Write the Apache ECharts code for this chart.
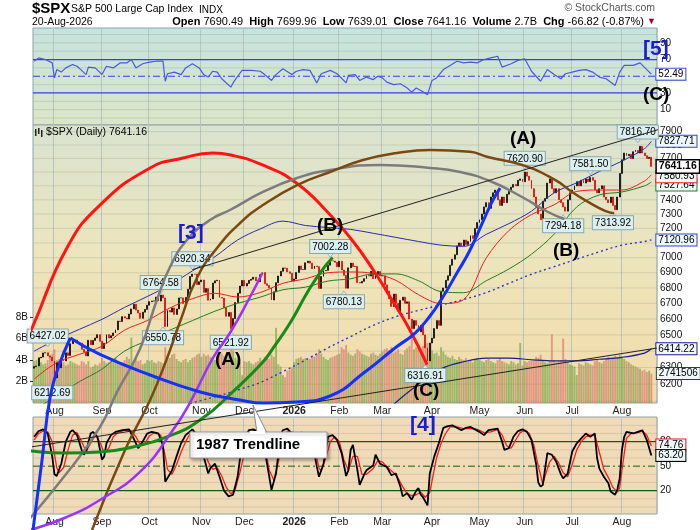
<!DOCTYPE html>
<html><head><meta charset="utf-8">
<script src="https://cdn.jsdelivr.net/npm/echarts@6/dist/echarts.min.js"></script>
<style>html,body{margin:0;padding:0;background:#fff}#c{width:700px;height:530px}</style>
</head><body><div id="c"></div>
<script>
// ---------- calendar (categories) ----------
const startDay = '2025-07-21', endDay = '2026-08-20';
const holidays = ['2025-09-01','2025-11-27','2025-12-25','2026-01-01','2026-01-19','2026-02-16','2026-04-03','2026-05-25','2026-06-19','2026-07-03'];
const padDays = ['2026-08-21','2026-08-24'];

// ---------- daily closes (Jul-2025 .. Aug-2026) ----------
const firstOpen = 6296.0;
const closes = [
 6305.60,6309.62,6358.91,6363.35,6388.64,6389.77,6370.86,6362.90,6339.39,
 6238.01,6329.94,6299.19,6345.06,6340.00,6389.45,6373.45,6445.76,6466.58,6468.54,6449.80,6449.15,6411.37,6395.78,6370.17,6466.91,6439.32,6465.94,6481.40,6501.86,6460.26,
 6415.54,6448.26,6502.08,6481.50,6495.15,6512.61,6532.04,6587.47,6584.29,6615.28,6606.76,6600.35,6631.96,6664.36,6693.75,6656.92,6637.97,6604.72,6643.70,6661.21,6688.46,
 6711.20,6715.35,6715.79,6740.28,6714.59,6753.72,6735.11,6552.51,6654.72,6644.31,6671.06,6629.07,6664.01,6735.13,6735.35,6699.40,6738.44,6791.69,6875.16,6890.89,6890.59,6822.34,6840.20,
 6851.97,6771.55,6796.29,6720.32,6728.80,6832.43,6846.61,6850.92,6737.49,6734.11,6672.41,6617.32,6642.16,6538.76,6602.99,6705.12,6765.88,6812.61,6849.09,
 6812.63,6829.37,6849.72,6857.12,6870.40,6846.51,6840.51,6886.68,6901.00,6827.41,6816.51,6800.26,6721.43,6774.76,6834.50,6878.49,6909.79,6932.05,6929.94,6905.74,6896.24,6845.50,
 6858.47,6902.05,6944.82,6920.93,6921.46,6966.28,6977.27,6963.74,6926.60,6944.47,6940.01,6796.86,6875.62,6913.35,6915.61,6950.23,6978.60,6978.03,6969.01,6939.03,
 6976.44,6917.81,6882.72,6798.40,6932.30,6964,6941,6942,6836,6832,6843,6861,6881,6878,6909,6861,6890,6908,6879,
 6880,6820,6780,6730,6680,6760,6700,6650,6720,6740,6700,6710,6600,6540,6590,6560,6520,6560,6500,6420,6340,6450,
 6480,6540,6590,6560,6780,6800,6850,6880,6950,6990,7020,7080,7100,7080,7120,7090,7110,7150,7130,7200,7240,
 7260,7300,7350,7380,7340,7420,7450,7470,7400,7360,7420,7380,7440,7460,7490,7510,7500,7540,7550,7530,
 7600,7570,7540,7480,7420,7350,7300,7260,7390,7410,7520,7550,7480,7450,7480,7400,7380,7350,7320,7400,7450,
 7470,7500,7530,7500,7540,7520,7550,7530,7560,7540,7470,7450,7480,7500,7420,7400,7380,7420,7360,7330,7420,7590,
 7690,7740,7720,7730,7700,7750,7760,7740,7790,7740,7720,7700,7707.98,7641.16
];
// ---------- daily volume (billions) ----------
const volumes = [
 3.9,4.0,4.1,3.8,3.6,3.7,4.0,4.3,4.6,
 5.0,4.0,4.1,3.9,3.8,3.5,3.6,3.9,3.8,3.7,3.6,3.5,3.9,3.8,3.6,3.9,3.3,3.4,3.6,3.5,3.7,
 4.2,3.9,3.7,3.8,3.9,4.1,4.2,3.9,3.6,3.8,4.0,4.3,4.1,6.1,3.9,4.1,3.9,4.0,3.6,3.7,4.0,
 3.9,4.0,3.8,3.7,3.9,3.8,3.7,5.2,4.4,4.2,4.5,4.6,4.1,3.9,3.8,4.0,4.1,3.8,4.0,4.2,4.3,4.5,4.6,
 4.3,4.6,4.4,4.5,4.3,4.2,4.0,4.3,4.8,4.6,4.4,4.5,4.3,5.2,4.9,4.2,4.0,3.8,2.6,
 3.9,3.8,3.9,3.7,3.6,3.8,3.9,4.2,4.0,4.3,4.2,4.1,4.5,4.3,7.0,3.6,3.4,2.6,2.4,3.0,3.1,3.3,
 3.8,4.1,4.2,4.3,4.1,4.2,4.0,4.1,4.4,4.3,4.6,5.0,4.6,4.3,4.1,4.0,4.2,4.3,4.4,4.5,
 4.6,5.2,5.0,5.4,4.7,4.5,4.4,4.6,5.0,4.8,4.6,4.5,4.4,4.3,4.6,4.7,4.5,4.4,4.6,
 4.8,5.0,5.1,4.9,5.2,4.7,4.8,5.0,4.6,4.5,4.9,5.1,5.3,6.3,5.0,5.2,5.4,5.1,5.3,5.5,5.6,5.0,
 4.9,4.6,4.7,4.4,5.2,4.8,4.5,4.3,4.2,4.4,4.1,4.0,4.3,4.1,4.0,4.2,3.9,4.0,3.8,4.1,4.2,
 4.0,3.9,3.8,4.0,4.1,3.9,3.8,3.7,4.0,4.2,3.9,3.8,3.7,3.6,3.9,3.8,3.6,3.7,5.6,3.5,
 3.9,3.8,3.9,4.0,4.1,4.3,4.2,4.5,4.0,3.8,3.7,3.9,6.4,4.0,3.8,3.9,4.0,6.0,4.1,3.8,3.6,
 3.5,3.4,2.6,3.7,3.6,3.5,3.8,3.7,3.6,3.5,3.9,4.0,3.8,3.7,3.9,4.1,4.3,4.0,4.2,4.4,4.3,4.5,
 4.3,4.1,3.9,3.8,3.6,3.5,3.4,3.3,3.2,3.0,3.1,2.9,3.0,2.741506
];

// ---------- overlay lines (trading-day number -> value) ----------
const maDay   = [0,10,20,30,40,50,60,70,80,90,100,110,120,130,140,150,160,170,180,190,200,210,220,230,240,250,260,270,273];
const ma20    = [6230,6330,6380,6430,6530,6590,6670,6730,6765,6741,6770,6830,6860,6900,6905,6895,6850,6756,6699,6725,6999,7185,7296,7365,7460,7470,7470,7535,7580.93];
const ma50    = [6050,6130,6215,6290,6400,6465,6530,6590,6650,6700,6740,6788,6805,6845,6860,6892,6892,6847,6776,6769,6847,6925,7024,7160,7350,7435,7456,7500,7527.64];
const bbUpper = [6400,6472,6535,6598,6674,6744,6820,6912,7007,7120,7196,7250,7220,7206,7193,7166,7138,7110,7085,7077,7159,7233,7320,7450,7522,7604,7680,7773,7827.71];
const bbMid   = [5880,5900,5925,5950,5980,6010,6045,6090,6125,6165,6210,6275,6345,6420,6490,6560,6615,6655,6690,6725,6770,6830,6890,6940,6990,7040,7085,7110,7120.96];
const bbLower = [5360,5328,5315,5302,5286,5276,5270,5268,5243,5210,5224,5300,5470,5634,5787,5954,6092,6200,6293,6335,6357,6357,6347,6340,6340,6350,6362,6388,6414.22];

const rsiDay = [0,2,5,8,9,10,12,14,17,19,21,23,24,27,29,30,32,35,38,41,43,45,48,51,54,57,58,59,62,65,67,70,73,75,77,79,81,83,87,88,90,92,96,100,102,105,107,110,114,116,119,122,125,127,131,134,138,139,142,144,147,150,152,154,156,159,162,165,167,169,171,174,176,178,181,184,187,190,193,196,199,202,205,207,211,214,217,220,224,227,230,233,235,238,241,244,247,250,253,257,259,261,265,268,271,273];
const rsiVal = [68,72,70,66,48,58,55,60,64,62,57,52,61,60,55,52,62,60,66,66,70,60,65,67,68,68,44,53,55,52,60,65,60,52,49,56,55,47,37,42,50,57,57,56,52,45,52,59,52,56,58,57,42,53,57,53,42,51,52,45,49,46,50,48,43,40,41,36,31,36,33,28,45,48,58,63,68,66,67,66,70,72,74,61,65,69,71,56,44,58,52,47,53,55,57,58,55,49,47,39,55,63,63,66,58,52.49];

const stochDay = [0,2,4,6,8,9,10,12,14,16,17,19,21,22,23,25,26,28,30,31,32,34,36,39,42,44,46,48,50,52,55,57,58,60,61,63,65,67,70,72,73,75,77,78,80,82,84,86,88,90,91,93,95,97,99,101,103,105,107,109,110,112,114,116,118,121,123,125,126,128,130,132,134,136,138,139,140,141,143,144,146,147,150,151,153,156,158,160,162,163,165,167,169,170,171,172,174,175,177,179,181,183,185,187,189,191,193,195,197,199,201,203,205,207,208,210,212,214,216,218,220,222,223,224,225,227,229,231,233,234,236,238,240,242,244,246,248,249,250,252,254,255,257,258,259,260,261,262,265,267,269,270,271,273];
const stochK = [86,93,95,90,62,40,38,53,80,92,94,88,70,64,68,90,92,86,58,62,78,88,92,94,95,84,72,80,90,92,90,75,31,40,45,62,78,88,95,88,80,62,41,48,53,37,20,13,15,37,58,85,94,95,92,85,53,21,41,88,94,96,90,88,91,90,80,50,37,53,86,88,82,66,38,45,70,76,45,27,40,45,51,64,53,49,39,41,25,13,17,9,20,23,15,12,2,41,62,78,97,99,100,97,94,97,98,95,92,88,94,95,96,80,70,72,86,93,95,92,82,53,30,25,27,66,64,55,40,35,41,68,78,84,90,86,90,60,47,37,29,19,15,22,35,70,86,92,90,92,94,88,82,63.2];
const stochDDay = [0,2,4,6,8,9,10,11,13,15,17,19,21,23,25,27,29,31,33,35,37,40,43,45,47,49,51,53,56,58,59,61,63,65,67,69,71,73,75,77,79,81,83,85,87,89,91,93,95,97,100,102,104,106,108,110,112,115,118,121,124,126,127,129,131,133,135,137,139,141,143,145,147,150,152,154,157,159,161,163,165,167,169,171,173,175,176,178,180,182,184,187,190,193,196,199,202,205,207,209,211,213,215,217,219,221,223,225,226,228,230,232,234,236,238,240,242,244,246,248,250,252,254,256,258,259,260,261,262,264,267,269,271,273];
const stochD = [82,90,93,92,80,65,48,42,48,70,88,91,80,68,78,88,80,66,72,86,91,94,93,86,76,78,87,91,88,62,46,40,52,67,80,90,92,86,73,55,46,48,38,24,16,22,42,66,88,94,91,75,45,33,55,80,93,91,89,90,72,48,44,60,80,86,80,58,45,62,62,40,40,47,57,55,47,42,35,25,16,14,15,18,12,18,32,60,78,90,98,98,96,96,95,91,92,95,88,75,72,82,91,94,90,76,50,28,38,55,62,54,42,37,52,70,80,86,88,88,67,46,36,24,18,24,45,65,84,90,91,93,88,74.76];

// ---------- hand-drawn cycle arcs and trendlines (trading-day number, price) ----------
const redArc = [[-15.1,6107],[-9.4,6297],[-0.9,6544],[14.5,7066],[29.1,7363],[51.3,7630],[66,7703],[79,7740],[87,7725],[101,7652],[116,7520],[131,7293],[140.6,7120],[150,6918],[158.3,6722],[166.2,6531],[173.8,6317]];
const grayArc = [[-6.3,5390],[14.5,5693],[29.1,5950],[36.7,6154],[46.8,6413],[54.3,6722],[60.1,6938],[67.6,7120],[77.8,7258],[86.6,7328],[101.2,7456],[116.3,7557],[130.9,7615],[153,7652],[175.1,7630],[188.4,7600],[201.6,7535],[215.8,7420],[227.3,7314],[234.5,7265]];
const brownArc = [[25.6,5390],[40.2,5821],[51.3,6107],[58.8,6357],[64.5,6581],[72,6865],[80.9,7066],[91.1,7237],[101.2,7363],[116.3,7506],[130.9,7600],[145.5,7688],[160.5,7740],[175.1,7762],[192.8,7749],[200.7,7710],[215.8,7652],[230.4,7543],[237.9,7456],[245,7385],[252.5,7322],[256.5,7305]];
const greenArc = [[-15.1,5837],[-1.8,5815],[13.7,5804],[29.1,5809],[43.7,5837],[58.8,5894],[73.4,5990],[88.8,6166],[101.2,6333],[105.7,6418],[113.2,6575],[120.7,6767],[126.4,6898],[132,7002]];
const purpleArc = [[-1.8,5390],[14.5,5458],[29.1,5548],[46.8,5699],[61.4,5933],[68.9,6090],[79.1,6358],[86.6,6512],[95.5,6741],[101,6900]];
const blueSmallArc = [[-0.5,5390],[3.5,5765],[7,6118],[10.6,6297],[16,6481]];
const blueArc = [[16,6481],[29.1,6380],[51.3,6255],[73.4,6154],[91,6107],[101.2,6089],[116.3,6095],[130.9,6130],[146.3,6273],[159.6,6419],[168.5,6512],[175.1,6619],[180.8,6741],[187,6898],[192.8,7052],[199.4,7279],[203,7400],[206.1,7484]];
const upperTrend = [[70,6920.34],[285.7,7966]];
const lowerTrend = [[-15.1,5810],[275.5,6419]];

// ---------- labelled extremes ----------
const noteDay  = [6,8,56,57,70,87,131,137,173,217,234,246,256,267];
const noteVal  = [6427.02,6212.69,6764.58,6550.78,6920.34,6521.92,7002.28,6780.13,6316.91,7620.90,7294.18,7581.50,7313.92,7816.70];
const noteHigh = [1,0,1,0,1,0,1,0,0,1,0,1,0,1];

// ---------- axis ticks / reference levels ----------
const priceTicks = [6200,6300,6400,6500,6600,6700,6800,6900,7000,7100,7200,7300,7400,7500,7600,7700,7800,7900];
const priceGrid = [6100,6200,6300,6400,6500,6600,6700,6800,6900,7000,7100,7200,7300,7400,7500,7600,7700,7800,7900];
const volTicks = [2,4,6,8];
const rsiTicks = [10,30,50,70,90];
const stochTicks = [20,50,80];
const rsiFaint = [0,10,20,40,60,80,90,100];
const stochFaint = [0,10,30,40,60,70,90,100];
const rsiBands = [70,30];
const stochBands = [80,20];

// ---------- build ----------
const dates = [];
(function(){
  let t = Date.parse(startDay + 'T00:00:00Z'); const end = Date.parse(endDay + 'T00:00:00Z');
  while (t <= end) { const d = new Date(t); const s = d.toISOString().slice(0,10); const w = d.getUTCDay();
    if (w !== 0 && w !== 6 && holidays.indexOf(s) < 0) dates.push(s); t += 86400000; }
})();
const cats = dates.concat(padDays);
const N = cats.length;
const FONT = 'Liberation Sans, Arial, Helvetica, sans-serif';
const MON = ['Jan','Feb','Mar','Apr','May','Jun','Jul','Aug','Sep','Oct','Nov','Dec'];
const isMonthStart = i => i > 0 && i < dates.length && cats[i].slice(0,7) !== cats[i-1].slice(0,7);
const monthFmt = v => { const m = +v.slice(5,7); return m === 1 ? '{y|' + v.slice(0,4) + '}' : MON[m-1]; };

const candles = closes.map((c,i) => { const o = i ? closes[i-1] : firstOpen; return [o, c, Math.min(o,c), Math.max(o,c)]; });
const volData = volumes.map((v,i) => ({ value: v, itemStyle: { color: (i === 0 || closes[i] >= closes[i-1]) ? 'rgba(125,168,78,0.72)' : 'rgba(214,110,105,0.62)' } }));
const pts = (days, vals) => days.map((d,i) => [d, vals[i]]);

const catAxis = (g, lab) => ({ type:'category', gridIndex:g, data:cats, boundaryGap:true,
  axisLine:{show:false, onZero:false}, axisTick:{show:false},
  axisLabel:{ show:lab, interval:(i)=>isMonthStart(i), formatter:monthFmt, fontSize:10.5, color:'#222', margin:3,
    rich:{ y:{ fontWeight:'bold', fontSize:10.5, color:'#222' } } },
  splitLine:{ show:true, interval:(i)=>isMonthStart(i), lineStyle:{ color:'#b6c4c2', width:1 } } });
const valAxis = g => ({ type:'value', gridIndex:g, min:-0.5, max:N-0.5, show:false, axisLine:{show:false, onZero:false}, splitLine:{show:false} });
const plain = v => String(v);

const tag = (border, extra) => Object.assign({ show:true, color:'#000', fontSize:10, fontFamily:FONT,
  backgroundColor:'#eef8f8', borderColor:border, borderWidth:1, padding:[1,2,0,2], distance:5 }, extra || {});

const lineS = (data, color, width, extra) => Object.assign({ type:'line', xAxisIndex:4, yAxisIndex:1, data:data,
  symbol:'none', silent:true, smooth:0.35, lineStyle:{ color:color, width:width }, z:4 }, extra || {});
const arcS = (data, color, width) => ({ type:'line', xAxisIndex:4, yAxisIndex:1, data:data, symbol:'none', silent:true,
  smooth:0.5, clip:false, lineStyle:{ color:color, width:width }, z:6 });
// horizontal reference level drawn across a panel (panel overlay x-axis spans the full width)
const levelS = (xi, yi, v, color, width, type, z) => ({ type:'line', xAxisIndex:xi, yAxisIndex:yi, data:[[-0.5, v],[N-0.5, v]],
  symbol:'none', silent:true, lineStyle:{ color:color, width:width, type:type || 'solid' }, z:z || 2 });

const calloutLabel = { show:true, color:'#000', fontSize:10, fontFamily:FONT, backgroundColor:'#dcefef',
  borderColor:'#8aa6aa', borderWidth:1, padding:[2,2,1,2], distance:0 };
const callouts = noteDay.map((d,i) => ({
  coord:[d, noteVal[i]], symbol:'triangle', symbolSize:[6,4], symbolRotate: noteHigh[i] ? 180 : 0,
  symbolOffset:[0, noteHigh[i] ? -2 : 2],
  itemStyle:{ color:'#dcefef', borderColor:'#8aa6aa', borderWidth:0.8 },
  label: Object.assign({}, calloutLabel, { position: noteHigh[i] ? 'top' : 'bottom', formatter: noteVal[i].toFixed(2) })
}));
const last = closes.length - 1;
callouts.push({ coord:[last, closes[last]], symbol:'rect', symbolSize:1, itemStyle:{ color:'rgba(0,0,0,0)' },
  label:{ show:true, position:'right', distance:5, formatter: closes[last].toFixed(2), color:'#000', fontWeight:'bold',
    fontSize:10.5, fontFamily:FONT, backgroundColor:'#fff', borderColor:'#000', borderWidth:1.5, padding:[1,2,0,2] } });

const txt = (t, left, top, font, fill) => ({ type:'text', left:left, top:top, z:100, style:{ text:t, font:font, fill:fill || '#000' } });

const series = [
  { type:'bar', xAxisIndex:1, yAxisIndex:2, data:volData, barCategoryGap:'15%', silent:true, z:2,
    markPoint:{ silent:true, data:[{ coord:[last, volumes[last]], symbol:'rect', symbolSize:1, itemStyle:{color:'rgba(0,0,0,0)'},
      label: tag('#224444', { position:'right', distance:5, formatter: String(Math.round(volumes[last]*1e6)) }) }] } },
  { type:'candlestick', xAxisIndex:1, yAxisIndex:1, data:candles, barWidth:1.4, silent:true, z:3,
    itemStyle:{ color:'#000', color0:'#e00000', borderColor:'#000', borderColor0:'#e00000', borderWidth:0.7 },
    markPoint:{ silent:true, data:callouts } },
  lineS(pts(maDay,bbMid), '#3535c0', 1.4, { lineStyle:{ color:'#3535c0', width:1.4, type:[2,3] },
    endLabel: tag('#3344cc', { formatter: bbMid[bbMid.length-1].toFixed(2) }) }),
  lineS(pts(maDay,bbLower), '#1c1c8c', 1.2, { endLabel: tag('#1c1c8c', { formatter: bbLower[bbLower.length-1].toFixed(2) }) }),
  lineS(pts(maDay,bbUpper), '#2a2ab0', 1, { endLabel: tag('#3344cc', { formatter: bbUpper[bbUpper.length-1].toFixed(2) }) }),
  lineS(pts(maDay,ma50), '#1f7f1f', 1, { endLabel: tag('#1f7f1f', { formatter: ma50[ma50.length-1].toFixed(2), offset:[0,3] }) }),
  lineS(pts(maDay,ma20), '#e82020', 1, { endLabel: tag('#e82020', { formatter: ma20[ma20.length-1].toFixed(2), offset:[0,2] }) }),
  arcS(redArc, '#ff1414', 3),
  arcS(grayArc, '#7c7c7c', 2.5),
  arcS(brownArc, '#7a4812', 2.5),
  arcS(greenArc, '#178a17', 3),
  arcS(purpleArc, '#9b30ff', 2.5),
  arcS(blueSmallArc, '#1430ff', 3),
  arcS(blueArc, '#1430ff', 3),
  Object.assign(arcS(upperTrend, '#222', 1), { smooth:false }),
  Object.assign(arcS(lowerTrend, '#222', 1), { smooth:false }),
  { type:'line', xAxisIndex:3, yAxisIndex:0, data:pts(rsiDay,rsiVal), symbol:'none', silent:true, z:4,
    lineStyle:{ color:'#4a58e0', width:1.2 },
    endLabel: tag('#3344cc', { backgroundColor:'#fff', formatter: rsiVal[rsiVal.length-1].toFixed(2) }) },
  { type:'line', xAxisIndex:5, yAxisIndex:3, data:pts(stochDDay,stochD), symbol:'none', silent:true, z:4,
    lineStyle:{ color:'#ff1a1a', width:1.3 },
    endLabel: tag('#e01010', { formatter: stochD[stochD.length-1].toFixed(2), offset:[0,-1] }) },
  { type:'line', xAxisIndex:5, yAxisIndex:3, data:pts(stochDay,stochK), symbol:'none', silent:true, z:5,
    lineStyle:{ color:'#000', width:1.8 },
    endLabel: tag('#000', { formatter: stochK[stochK.length-1].toFixed(2) }) }
];
priceGrid.forEach(v => series.push(levelS(4, 1, v, 'rgba(120,130,110,0.22)', 1, 'solid', 1)));
rsiFaint.forEach(v => series.push(levelS(3, 0, v, 'rgba(120,140,130,0.25)', 1, 'solid', 1)));
stochFaint.forEach(v => series.push(levelS(5, 3, v, 'rgba(150,120,90,0.22)', 1, 'solid', 1)));
rsiBands.forEach(v => series.push(levelS(3, 0, v, '#3a3aee', 1.2, 'solid', 2)));
series.push(levelS(3, 0, 50, '#3a3aee', 1, [7,3,2,3], 2));
stochBands.forEach(v => series.push(levelS(5, 3, v, '#0e5e0e', 1.2, 'solid', 2)));
series.push(levelS(5, 3, 50, '#0e5e0e', 1, [7,3,2,3], 2));

const option = {
  animation:false,
  textStyle:{ fontFamily:FONT },
  grid:[
    { left:33, right:43, top:28, height:97, show:true, borderColor:'#8fa3a6', borderWidth:1,
      backgroundColor:{ type:'linear', x:0, y:0, x2:0, y2:1, colorStops:[{offset:0,color:'#c6e3dd'},{offset:1,color:'#dbe6c8'}] } },
    { left:33, right:43, top:125, height:278, show:true, borderColor:'#8fa3a6', borderWidth:1,
      backgroundColor:{ type:'linear', x:0, y:0, x2:0, y2:1, colorStops:[{offset:0,color:'#d9e3d0'},{offset:0.45,color:'#ece5bd'},{offset:1,color:'#f4dba8'}] } },
    { left:33, right:43, top:417, height:97, show:true, borderColor:'#8fa3a6', borderWidth:1, backgroundColor:'#f0dbb9' }
  ],
  xAxis:[ catAxis(0,false), catAxis(1,true), catAxis(2,true), valAxis(0), valAxis(1), valAxis(2) ],
  yAxis:[
    { type:'value', gridIndex:0, min:-8.4, max:107.8, position:'right', axisLine:{show:false}, axisTick:{show:false}, splitLine:{show:false},
      axisLabel:{ customValues:rsiTicks, formatter:plain, fontSize:10, color:'#111', margin:3 } },
    { type:'log', gridIndex:1, min:6089, max:7951, position:'right', axisLine:{show:false}, axisTick:{show:false}, splitLine:{show:false},
      axisLabel:{ customValues:priceTicks, formatter:plain, fontSize:10, color:'#111', margin:3 } },
    { type:'value', gridIndex:1, min:0, max:25.9, position:'left', axisLine:{show:false}, splitLine:{show:false},
      axisTick:{ show:true, customValues:volTicks, length:3, lineStyle:{color:'#333'} },
      axisLabel:{ customValues:volTicks, formatter:v => v + 'B', fontSize:10, color:'#111', margin:5 } },
    { type:'value', gridIndex:2, min:-8.57, max:110.2, position:'right', axisLine:{show:false}, axisTick:{show:false}, splitLine:{show:false},
      axisLabel:{ customValues:stochTicks, formatter:plain, fontSize:10, color:'#111', margin:3 } }
  ],
  series: series,
  graphic:[
    txt('$SPX', 32, 1, 'bold 15px ' + FONT),
    txt('S&P 500 Large Cap Index', 71, 4, '10.5px ' + FONT),
    txt('INDX', 199, 5, '10px ' + FONT),
    { type:'text', right:45, top:3, z:100, style:{ text:'\u00a9 StockCharts.com', font:'10.5px ' + FONT, fill:'#555' } },
    txt('20-Aug-2026', 32, 17, '10.5px ' + FONT),
    { type:'text', right:44, top:16, z:100, style:{
        text:'{b|Open} 7690.49  {b|High} 7699.96  {b|Low} 7639.01  {b|Close} 7641.16  {b|Volume} 2.7B  {b|Chg} -66.82 (-0.87%) {r|\u25bc}',
        fontSize:11, fontFamily:FONT, fill:'#000',
        rich:{ b:{ fontWeight:'bold', fontSize:11, fontFamily:FONT, fill:'#000' }, r:{ fontSize:9, fill:'#a0002a' } } } },
    { type:'group', left:35, top:128, z:100, children:[
        { type:'rect', z:100, shape:{ x:0, y:1, width:1.5, height:7 }, style:{ fill:'#222' } },
        { type:'rect', z:100, shape:{ x:3, y:0, width:1.5, height:6 }, style:{ fill:'#222' } },
        { type:'rect', z:100, shape:{ x:6, y:2, width:1.5, height:7 }, style:{ fill:'#222' } } ] },
    txt('$SPX (Daily) 7641.16', 46, 127, '10.5px ' + FONT),
    txt('[3]', 178, 223, 'bold 21px ' + FONT, '#1c1cd8'),
    txt('[4]', 410, 415, 'bold 21px ' + FONT, '#1c1cd8'),
    txt('[5]', 643, 39, 'bold 21px ' + FONT, '#1c1cd8'),
    txt('(A)', 215, 350, 'bold 19px ' + FONT),
    txt('(B)', 317, 216, 'bold 19px ' + FONT),
    txt('(C)', 413, 381, 'bold 19px ' + FONT),
    txt('(A)', 510, 129, 'bold 19px ' + FONT),
    txt('(B)', 553, 241, 'bold 19px ' + FONT),
    txt('(C)', 643, 85, 'bold 19px ' + FONT),
    { type:'polygon', z:100, shape:{ points:[[253,405],[257,433],[267,433]] }, style:{ fill:'#fff', stroke:'#888', lineWidth:1 } },
    { type:'rect', z:100, shape:{ x:190, y:432, width:137, height:26 }, style:{ fill:'#fff', stroke:'#999', lineWidth:1,
        shadowBlur:3, shadowColor:'rgba(0,0,0,0.3)', shadowOffsetX:2, shadowOffsetY:2 } },
    { type:'rect', z:101, shape:{ x:250, y:431, width:15, height:3 }, style:{ fill:'#fff' } },
    { type:'text', z:102, x:196, y:445, style:{ text:'1987 Trendline', font:'bold 15px ' + FONT, fill:'#000', verticalAlign:'middle' } }
  ]
};
const chart = echarts.init(document.getElementById('c'), null, { renderer:'canvas', width:700, height:530 });
chart.setOption(option);
</script></body></html>
